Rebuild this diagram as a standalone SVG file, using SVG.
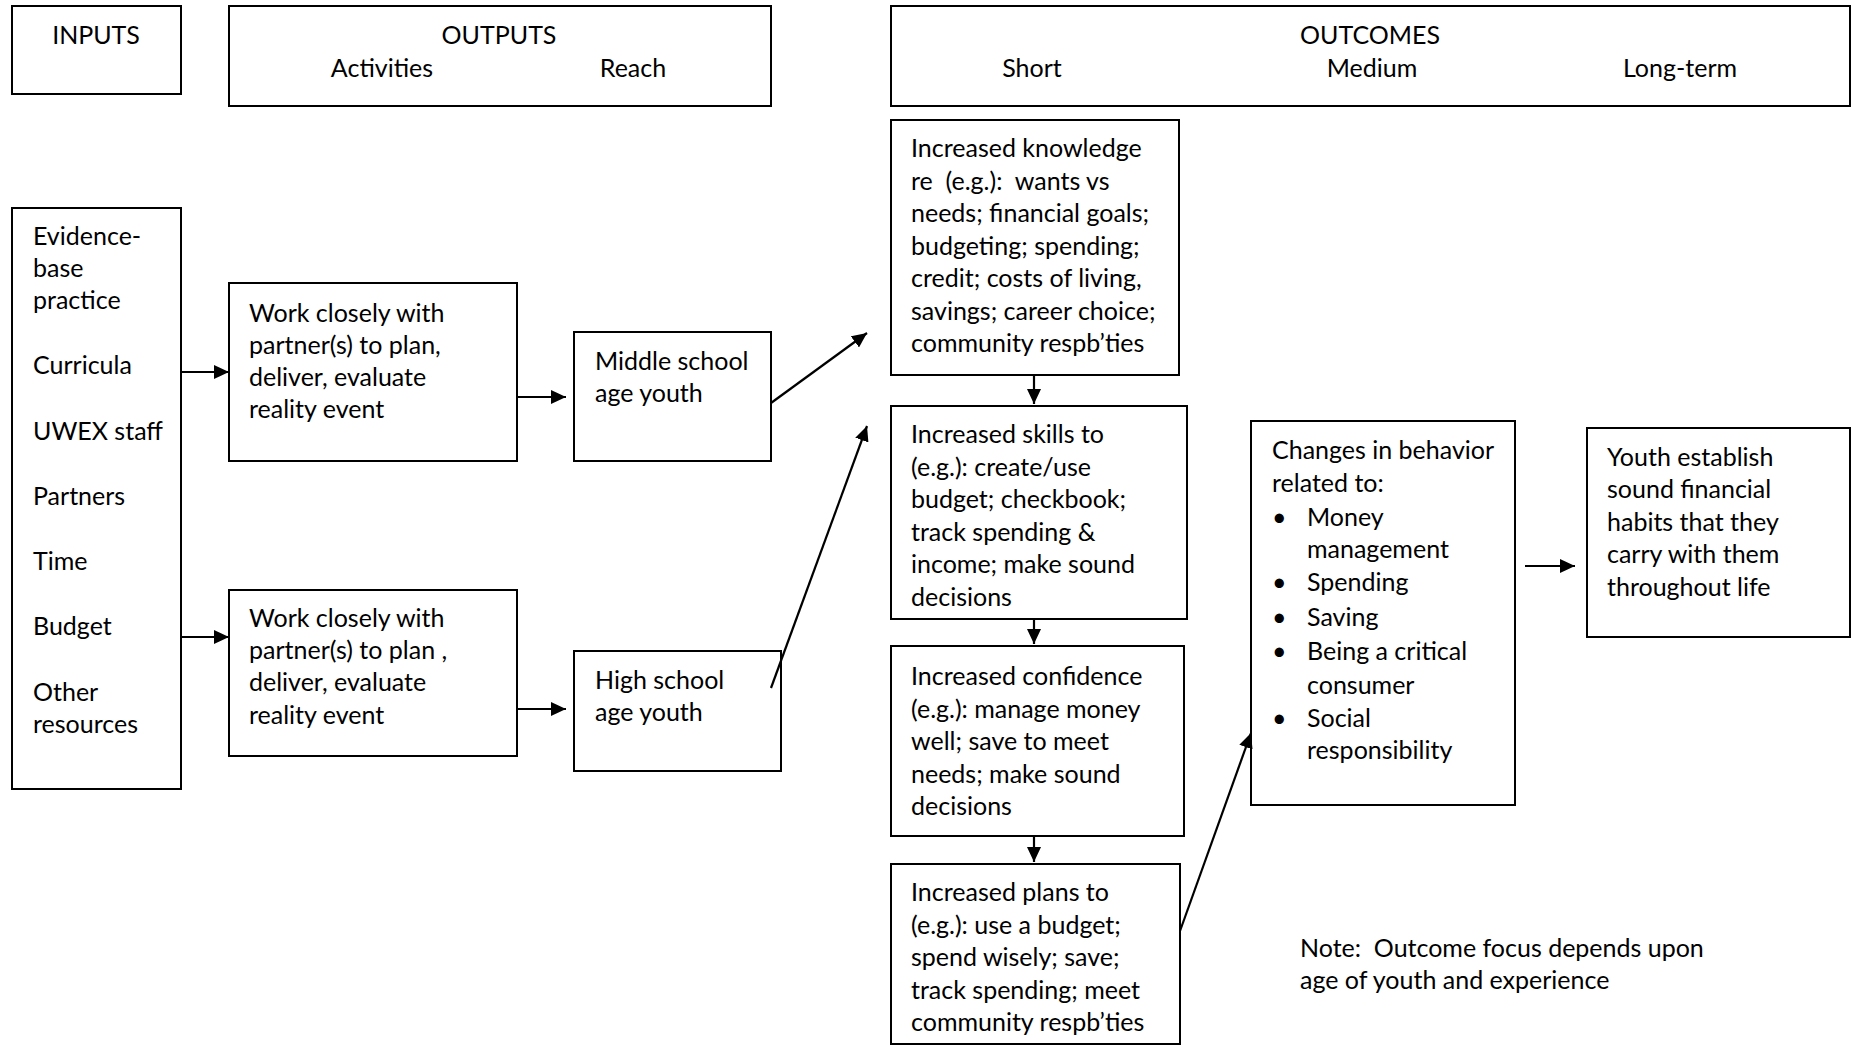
<svg xmlns="http://www.w3.org/2000/svg" width="1860" height="1045" viewBox="0 0 1860 1045">
<style>
.b{fill:#fff;stroke:#000;stroke-width:2}
text{font-family:Lato,"Liberation Sans",sans-serif;font-size:25px;fill:#000;transform:translateY(1.5px)}
.c{text-anchor:middle}
.e{stroke:#000;stroke-width:2.2;fill:none;marker-end:url(#ah)}
</style>
<defs>
<marker id="ah" markerUnits="userSpaceOnUse" markerWidth="16" markerHeight="14" refX="15" refY="7" orient="auto">
<path d="M0,0 L15,7 L0,14 z" fill="#000"/>
</marker>
</defs>
<rect width="1860" height="1045" fill="#fff"/>
<g id="hdr-inputs"><rect class="b" x="12" y="6" width="169" height="88"/><text class="c" x="96" y="42">INPUTS</text></g>
<g id="hdr-outputs"><rect class="b" x="229" y="6" width="542" height="100"/><text class="c" x="499" y="42">OUTPUTS</text><text class="c" x="382" y="75">Activities</text><text class="c" x="633" y="75">Reach</text></g>
<g id="hdr-outcomes"><rect class="b" x="891" y="6" width="959" height="100"/><text class="c" x="1370" y="42">OUTCOMES</text><text class="c" x="1032" y="75">Short</text><text class="c" x="1372" y="75">Medium</text><text class="c" x="1680" y="75">Long-term</text></g>
<g id="inputs"><rect class="b" x="12" y="208" width="169" height="581"/>
<text x="33" y="243">Evidence-</text><text x="33" y="275">base</text><text x="33" y="307">practice</text><text x="33" y="372">Curricula</text><text x="33" y="438">UWEX staff</text><text x="33" y="503">Partners</text><text x="33" y="568">Time</text><text x="33" y="633">Budget</text><text x="33" y="699">Other</text><text x="33" y="731">resources</text></g>
<g id="act1"><rect class="b" x="229" y="283" width="288" height="178"/>
<text x="249" y="320">Work closely with</text><text x="249" y="352">partner(s) to plan,</text><text x="249" y="384">deliver, evaluate</text><text x="249" y="416">reality event</text></g>
<g id="act2"><rect class="b" x="229" y="590" width="288" height="166"/>
<text x="249" y="625">Work closely with</text><text x="249" y="657">partner(s) to plan ,</text><text x="249" y="689">deliver, evaluate</text><text x="249" y="722">reality event</text></g>
<g id="ms"><rect class="b" x="574" y="332" width="197" height="129"/><text x="595" y="368">Middle school</text><text x="595" y="400">age youth</text></g>
<g id="hs"><rect class="b" x="574" y="651" width="207" height="120"/><text x="595" y="687">High school</text><text x="595" y="719">age youth</text></g>
<g id="knowledge"><rect class="b" x="891" y="120" width="288" height="255"/>
<text x="911" y="155">Increased knowledge</text><text x="911" y="188" xml:space="preserve">re  (e.g.):  wants vs</text><text x="911" y="220">needs; financial goals;</text><text x="911" y="253">budgeting; spending;</text><text x="911" y="285">credit; costs of living,</text><text x="911" y="318">savings; career choice;</text><text x="911" y="350">community respb’ties</text></g>
<g id="skills"><rect class="b" x="891" y="406" width="296" height="213"/>
<text x="911" y="441">Increased skills to</text><text x="911" y="474">(e.g.): create/use</text><text x="911" y="506">budget; checkbook;</text><text x="911" y="539">track spending &amp;</text><text x="911" y="571">income; make sound</text><text x="911" y="604">decisions</text></g>
<g id="confidence"><rect class="b" x="891" y="646" width="293" height="190"/>
<text x="911" y="683">Increased confidence</text><text x="911" y="716">(e.g.): manage money</text><text x="911" y="748">well; save to meet</text><text x="911" y="781">needs; make sound</text><text x="911" y="813">decisions</text></g>
<g id="plans"><rect class="b" x="891" y="864" width="289" height="180"/>
<text x="911" y="899">Increased plans to</text><text x="911" y="932">(e.g.): use a budget;</text><text x="911" y="964">spend wisely; save;</text><text x="911" y="997">track spending; meet</text><text x="911" y="1029">community respb’ties</text></g>
<g id="behavior"><rect class="b" x="1251" y="421" width="264" height="384"/>
<text x="1272" y="457">Changes in behavior</text><text x="1272" y="490">related to:</text>
<text x="1272" y="524">•</text><text x="1307" y="524">Money</text><text x="1307" y="556">management</text>
<text x="1272" y="589">•</text><text x="1307" y="589">Spending</text>
<text x="1272" y="624">•</text><text x="1307" y="624">Saving</text>
<text x="1272" y="658">•</text><text x="1307" y="658">Being a critical</text><text x="1307" y="692">consumer</text>
<text x="1272" y="725">•</text><text x="1307" y="725">Social</text><text x="1307" y="757">responsibility</text></g>
<g id="youth"><rect class="b" x="1587" y="428" width="263" height="209"/>
<text x="1607" y="464">Youth establish</text><text x="1607" y="496">sound financial</text><text x="1607" y="529">habits that they</text><text x="1607" y="561">carry with them</text><text x="1607" y="594">throughout life</text></g>
<g id="note"><text x="1300" y="955" xml:space="preserve">Note:  Outcome focus depends upon</text><text x="1300" y="987">age of youth and experience</text></g>
<g id="connectors">
<line class="e" x1="181" y1="372" x2="229" y2="372"/>
<line class="e" x1="181" y1="637" x2="229" y2="637"/>
<line class="e" x1="517" y1="397" x2="566" y2="397"/>
<line class="e" x1="517" y1="709" x2="566" y2="709"/>
<line class="e" x1="771" y1="403" x2="867" y2="333"/>
<line class="e" x1="771" y1="688" x2="867" y2="426"/>
<line class="e" x1="1034" y1="375" x2="1034" y2="404"/>
<line class="e" x1="1034" y1="619" x2="1034" y2="644"/>
<line class="e" x1="1034" y1="836" x2="1034" y2="862"/>
<line class="e" x1="1180" y1="931" x2="1251" y2="733"/>
<line class="e" x1="1525" y1="566" x2="1575" y2="566"/>
</g>
</svg>
